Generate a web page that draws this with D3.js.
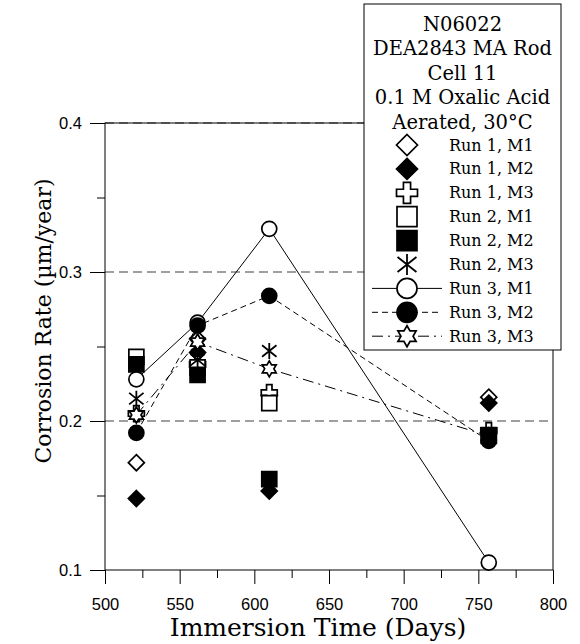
<!DOCTYPE html>
<html><head><meta charset="utf-8">
<script src="https://cdn.jsdelivr.net/npm/d3@7"></script>
<style>body{margin:0;background:#fff}svg{display:block}</style>
</head><body>
<svg id="c" width="580" height="644"></svg>
<script>
const days = [521, 562, 610, 757];
const run1M1 = [0.172, 0.255, 0.217, 0.216];
const run1M2 = [0.148, 0.246, 0.153, 0.212];
const run1M3 = [0.205, 0.238, 0.219, 0.1935];
const run2M1 = [0.243, 0.236, 0.212, 0.190];
const run2M2 = [0.238, 0.231, 0.161, 0.1905];
const run2M3 = [0.215, 0.241, 0.247, 0.190];
const run3M1 = [0.228, 0.266, 0.329, 0.105];
const run3M2 = [0.192, 0.264, 0.284, 0.1866];
const run3M3 = [0.204, 0.253, 0.235, 0.190];
const xTicks = [500, 550, 600, 650, 700, 750, 800];
const yTicks = [0.1, 0.2, 0.3, 0.4];
const gridVals = [0.2, 0.3, 0.4];
const legendTitle = ["N06022", "DEA2843 MA Rod", "Cell 11", "0.1 M Oxalic Acid", "Aerated, 30°C"];

const series = [
  {name: "Run 1, M1", vals: run1M1, sym: "diamond", fill: false, line: null, z: 0},
  {name: "Run 1, M2", vals: run1M2, sym: "diamond", fill: true, line: null, z: 1},
  {name: "Run 1, M3", vals: run1M3, sym: "cross", fill: false, line: null, z: 2},
  {name: "Run 2, M1", vals: run2M1, sym: "square", fill: false, line: null, z: 3},
  {name: "Run 2, M2", vals: run2M2, sym: "square", fill: true, line: null, z: 5},
  {name: "Run 2, M3", vals: run2M3, sym: "asterisk", fill: false, line: null, z: 6},
  {name: "Run 3, M1", vals: run3M1, sym: "circle", fill: false, line: "none", z: 7},
  {name: "Run 3, M2", vals: run3M2, sym: "circle", fill: true, line: "6,4", z: 8},
  {name: "Run 3, M3", vals: run3M3, sym: "star", fill: false, line: "11,5,2,5", z: 4}
];

const svg = d3.select("#c");
const L = 105, R = 553, T = 123, B = 570;
const x = d3.scaleLinear().domain([500, 800]).range([L, R]);
const y = d3.scaleLinear().domain([0.1, 0.4]).range([B, T]);

function symPath(type, s) {
  const h = s / 2;
  if (type === "diamond") return `M0,${-h}L${h},0L0,${h}L${-h},0Z`;
  if (type === "square") { const q = h - 0.5; return `M${-q},${-q}H${q}V${q}H${-q}Z`; }
  if (type === "circle") { const r = h - 0.5; return `M${r},0A${r},${r} 0 1,1 ${-r},0A${r},${r} 0 1,1 ${r},0Z`; }
  if (type === "cross") {
    const a = s * 0.17, e = h;
    return `M${-a},${-e}H${a}V${-a}H${e}V${a}H${a}V${e}H${-a}V${a}H${-e}V${-a}H${-a}Z`;
  }
  if (type === "asterisk") {
    const dx = s * 0.45, dy = s * 0.36;
    return `M0,${-h}L0,${h}M${-dx},${-dy}L${dx},${dy}M${-dx},${dy}L${dx},${-dy}`;
  }
  if (type === "star") {
    const ro = h, ri = h / Math.sqrt(3);
    let pts = [];
    for (let k = 0; k < 12; k++) {
      const r = k % 2 === 0 ? ro : ri;
      const ang = -Math.PI / 2 + k * Math.PI / 6;
      pts.push([Math.cos(ang) * r, Math.sin(ang) * r]);
    }
    return "M" + pts.map(p => p.join(",")).join("L") + "Z";
  }
}
function drawSym(g, type, fill, s, cx, cy) {
  const p = g.append("path").attr("d", symPath(type, s)).attr("transform", `translate(${cx},${cy})`);
  if (type === "asterisk") p.attr("fill", "none").attr("stroke", "#000").attr("stroke-width", 1.8);
  else p.attr("fill", fill ? "#000" : "#fff").attr("stroke", "#000").attr("stroke-width", 1.7);
}

// gridlines
svg.append("g").selectAll("line").data(gridVals).join("line")
  .attr("x1", L).attr("x2", R).attr("y1", d => y(d)).attr("y2", d => y(d))
  .attr("stroke", "#808080").attr("stroke-width", 1.3).attr("stroke-dasharray", "9,5");

// frame
svg.append("rect").attr("x", L).attr("y", T).attr("width", R - L).attr("height", B - T)
  .attr("fill", "none").attr("stroke", "#000").attr("stroke-width", 1);

// axes
const xAxis = svg.append("g").attr("transform", `translate(0,${B})`)
  .call(d3.axisBottom(x).tickValues(xTicks).tickSize(14).tickPadding(14).tickFormat(d3.format("d")));
const xMinor = svg.append("g").attr("transform", `translate(0,${B})`)
  .call(d3.axisBottom(x).tickValues(d3.range(525, 800, 50)).tickSize(8).tickFormat(""));
const yAxis = svg.append("g").attr("transform", `translate(${L},0)`)
  .call(d3.axisLeft(y).tickValues(yTicks).tickSize(15).tickPadding(8).tickFormat(d3.format(".1f")));
const yMinor = svg.append("g").attr("transform", `translate(${L},0)`)
  .call(d3.axisLeft(y).tickValues([0.15, 0.25, 0.35]).tickSize(8).tickFormat(""));
[xAxis, xMinor, yAxis, yMinor].forEach(a => {
  a.select(".domain").remove();
  a.selectAll("text").attr("font-family", "Liberation Sans, Arial, sans-serif").attr("font-size", 16.5).attr("fill", "#000");
});

// lines
series.filter(s => s.line).forEach(s => {
  const ln = d3.line().x((d, i) => x(days[i])).y(d => y(d));
  svg.append("path").datum(s.vals).attr("d", ln).attr("fill", "none")
    .attr("stroke", "#000").attr("stroke-width", 1)
    .attr("stroke-dasharray", s.line === "none" ? null : s.line);
});

// markers
series.slice().sort((a, b) => a.z - b.z).forEach(s => {
  const g = svg.append("g");
  s.vals.forEach((v, i) => drawSym(g, s.sym, s.fill, 16, x(days[i]), y(v)));
});

// axis titles
svg.append("text").attr("x", 318).attr("y", 636).attr("text-anchor", "middle")
  .attr("font-family", "DejaVu Serif, serif").attr("font-size", 25).text("Immersion Time (Days)");
svg.append("text").attr("transform", "translate(51,321) rotate(-90)").attr("text-anchor", "middle")
  .attr("font-family", "DejaVu Serif, serif").attr("font-size", 22).text("Corrosion Rate (µm/year)");

// legend
const lg = svg.append("g");
lg.append("rect").attr("x", 364).attr("y", 4).attr("width", 197).attr("height", 346)
  .attr("fill", "#fff").attr("stroke", "#000").attr("stroke-width", 1);
legendTitle.forEach((t, i) => {
  lg.append("text").attr("x", 462.5).attr("y", 30.5 + i * 24.5).attr("text-anchor", "middle")
    .attr("font-family", "DejaVu Serif, serif").attr("font-size", 19.5).text(t);
});
series.forEach((s, i) => {
  const cy = 145 + i * 23.9;
  if (s.line) {
    lg.append("line").attr("x1", 372).attr("x2", 442).attr("y1", cy).attr("y2", cy)
      .attr("stroke", "#000").attr("stroke-width", 1)
      .attr("stroke-dasharray", s.line === "none" ? null : s.line);
  }
  drawSym(lg, s.sym, s.fill, 21, 407, cy);
  lg.append("text").attr("x", 449).attr("y", cy + 5.5)
    .attr("font-family", "DejaVu Serif, serif").attr("font-size", 16).text(s.name);
});
</script>
</body></html>
